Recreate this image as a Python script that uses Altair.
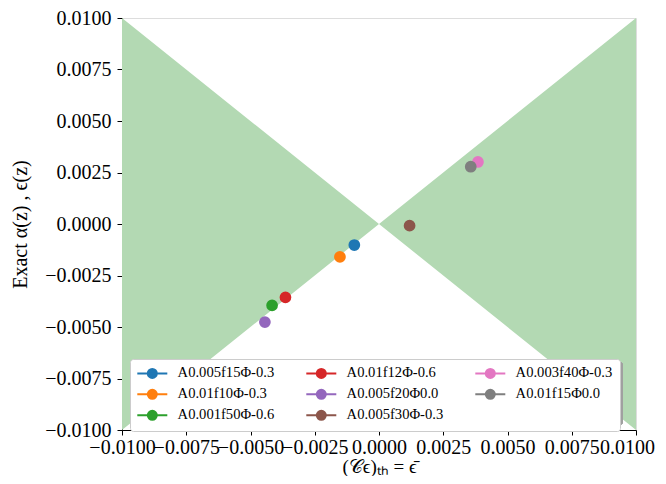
import altair as alt
import pandas as pd

# Series (one point each)
names = ["A0.005f15Φ-0.3", "A0.01f10Φ-0.3", "A0.001f50Φ-0.6", "A0.01f12Φ-0.6",
         "A0.005f20Φ0.0", "A0.005f30Φ-0.3", "A0.003f40Φ-0.3", "A0.01f15Φ0.0"]
x_vals = [-0.00096, -0.00152, -0.00416, -0.00364, -0.00444, 0.00119, 0.00385, 0.00357]
y_vals = [-0.00102, -0.00160, -0.00395, -0.00356, -0.00476, -0.00008, 0.00301, 0.00278]
colors = ["#1f77b4", "#ff7f0e", "#2ca02c", "#d62728", "#9467bd", "#8c564b", "#e377c2", "#7f7f7f"]

# shaded region |y| < |x|
region_x = [-0.01, 0.0, 0.01]
region_lo = [-0.01, 0.0, -0.01]
region_hi = [0.01, 0.0, 0.01]

ticks = [-0.01, -0.0075, -0.005, -0.0025, 0.0, 0.0025, 0.005, 0.0075, 0.01]

pts = pd.DataFrame({"name": names, "x": x_vals, "y": y_vals})
reg = pd.DataFrame({"x": region_x, "lo": region_lo, "hi": region_hi})

W, H = 514, 412
FONT = "Liberation Serif"

xs = alt.Scale(domain=[-0.01, 0.01], nice=False, zero=False)
ys = alt.Scale(domain=[-0.01, 0.01], nice=False, zero=False)

xaxis = alt.Axis(values=ticks, format=".4f", labelOverlap=False, labelFlush=False,
                 labelOffset={"expr": "datum.value > 0.009 ? -9 : 0"},
                 grid=False, tickSize=5, tickColor="black", domainColor="black",
                 labelFont=FONT, labelFontSize=20, labelColor="black", labelPadding=2,
                 title="(𝒞ϵ)ₜₕ = ϵ̄", titleFont=FONT, titleFontSize=19,
                 titleFontWeight="normal", titleColor="black", titlePadding=0)
yaxis = alt.Axis(values=ticks, format=".4f", labelOverlap=False, labelFlush=False,
                 grid=False, tickSize=5, tickColor="black", domainColor="black",
                 labelFont=FONT, labelFontSize=20, labelColor="black", labelPadding=6,
                 title="Exact α(z) , ϵ(z)", titleFont=FONT, titleFontSize=20,
                 titleFontWeight="normal", titleColor="black", titlePadding=14)

area = alt.Chart(reg).mark_area(color="#b3d9b3", opacity=1).encode(
    x=alt.X("x:Q", scale=xs, axis=xaxis),
    y=alt.Y("lo:Q", scale=ys, axis=yaxis),
    y2="hi:Q",
)

shadow = alt.Chart(reg).mark_rect(color="#a0a0a0", cornerRadius=3).encode(
    x=alt.value(12), x2=alt.value(501), y=alt.value(344), y2=alt.value(407)
)

sym = "M-3,0H3M0.9,0A0.9,0.9 0 1,1 -0.9,0A0.9,0.9 0 1,1 0.9,0Z"

points = alt.Chart(pts).mark_circle(size=95, opacity=1).encode(
    x=alt.X("x:Q", scale=xs),
    y=alt.Y("y:Q", scale=ys),
    color=alt.Color("name:N", scale=alt.Scale(domain=names, range=colors), sort=names,
                    legend=alt.Legend(title=None, orient="none", legendX=8, legendY=341,
                                      columns=3, columnPadding=27, rowPadding=3,
                                      symbolType=sym, symbolSize=100, symbolStrokeWidth=2,
                                      symbolOffset=8, labelOffset=18,
                                      labelFont=FONT, labelFontSize=14.6, labelColor="black",
                                      fillColor="white", strokeColor="#cccccc",
                                      cornerRadius=3, padding=7)),
    stroke=alt.Stroke("name:N", scale=alt.Scale(domain=names, range=colors), sort=names,
                      legend=None),
)

chart = alt.layer(area, shadow, points).properties(
    width=W, height=H,
    autosize=alt.AutoSizeParams(type="none"),
    padding={"left": 114, "top": 10, "right": 20, "bottom": 46},
).configure_view(stroke="black", strokeWidth=1).configure(background="white")

chart.save("out.html", embed_options={"renderer": "svg", "actions": False})
